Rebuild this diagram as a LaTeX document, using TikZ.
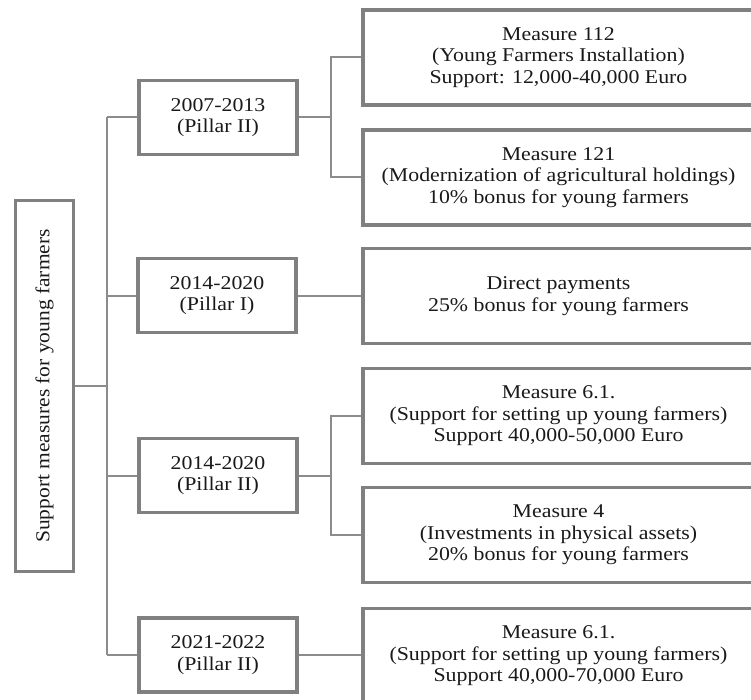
\documentclass[tikz,border=0pt]{standalone}
\usepackage{fontspec}
\setmainfont{Liberation Serif}[FakeStretch=1.12]
\newfontfamily\sidefont{Liberation Serif}[FakeStretch=1.09]
\usetikzlibrary{calc}
\tikzset{
  font=\fontsize{19.5}{21.5}\selectfont,
  box/.style = {
    draw=black!50,
    line width=3.5pt,
    align=center,
    inner sep=0pt,
    text=black!90
  },
  title/.style = {
    box,
    rotate=90, % text runs bottom to top
    minimum width=371pt,
    minimum height=58pt,
    font=\sidefont\fontsize{19.7}{21.5}\selectfont
  },
  period/.style = {
    box,
    minimum width=158pt,
    minimum height=74pt
  },
  measure/.style = {
    box,
    minimum width=391pt,
    minimum height=95pt
  },
  link/.style = {
    draw=black!45,
    line width=2pt
  }
}

\begin{document}
\begin{tikzpicture}[x=1pt,y=-1pt]

      \useasboundingbox (0,0) rectangle (751,700);
      \clip (0,0) rectangle (751,700);

      \node[title] (side) at (44.5,386) {Support measures for young farmers};

      \node[period] (p1) at (218,117.5) {2007-2013\\(Pillar II)};
      \node[period] (p2) at (217,295.5) {2014-2020\\(Pillar I)};
      \node[period] (p3) at (218,475.5) {2014-2020\\(Pillar II)};
      \node[period] (p4) at (218,655) {2021-2022\\(Pillar II)};

      \node[measure] (m112) at (558.5,57.5) {Measure 112\\(Young Farmers Installation)\\Support: 12,000-40,000 Euro};
      \node[measure] (m121) at (558.5,177.5) {Measure 121\\(Modernization of agricultural holdings)\\10\% bonus for young farmers};
      \node[measure] (dp) at (558.5,296) {Direct payments\\25\% bonus for young farmers};
      \node[measure] (m61a) at (558.5,416) {Measure 6.1.\\(Support for setting up young farmers)\\Support 40,000-50,000 Euro};
      \node[measure] (m4) at (558.5,535) {Measure 4\\(Investments in physical assets)\\20\% bonus for young farmers};
      \node[measure] (m61b) at (558.5,656) {Measure 6.1.\\(Support for setting up young farmers)\\Support 40,000-70,000 Euro};

      \coordinate (trunk) at (107,0);
      \coordinate (fork) at (331,0);

      \draw[link] (side.south) -- (side.south -| trunk);
      \draw[link] (p1.west -| trunk) -- (p4.west -| trunk);
      \foreach \p in {p1,p2,p3,p4}
        \draw[link] (\p.west -| trunk) -- (\p.west);

      \draw[link] (p1.east) -- (p1.east -| fork);
      \draw[link] (m112.west) -| (p1.east -| fork) |- (m121.west);
      \draw[link] (p2.east) -- (p2.east -| dp.west);
      \draw[link] (p3.east) -- (p3.east -| fork);
      \draw[link] (m61a.west) -| (p3.east -| fork) |- (m4.west);
      \draw[link] (p4.east) -- (p4.east -| m61b.west);
    \end{tikzpicture}
\end{document}
